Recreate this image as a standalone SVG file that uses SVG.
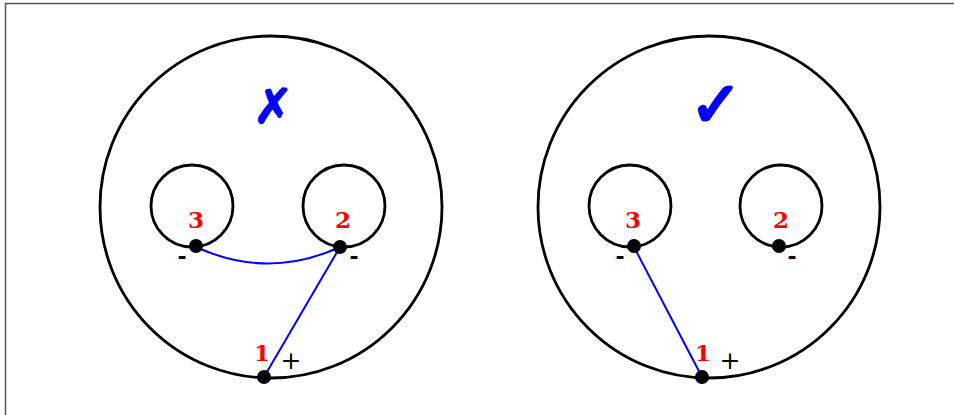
<svg xmlns="http://www.w3.org/2000/svg" width="954" height="415" viewBox="0 0 954 415">
<style>
.big{fill:none;stroke:#000;stroke-width:2.8}
.small{fill:none;stroke:#000;stroke-width:2.8}
.dot{fill:#000}
.wire{fill:none;stroke:#0000ff;stroke-width:2}
.num{font-family:"DejaVu Serif","Liberation Serif",serif;font-weight:bold;font-size:23px;fill:#ff0000;text-anchor:middle}
.neg{font-family:"DejaVu Sans","Liberation Sans",sans-serif;font-weight:bold;font-size:22px;fill:#000;text-anchor:middle}
.pos{font-family:"DejaVu Serif","Liberation Serif",serif;font-size:25px;fill:#000;text-anchor:middle}
.mark{font-family:"DejaVu Sans",sans-serif;font-weight:bold;fill:#0000ff;stroke:#0000ff;stroke-linejoin:round;text-anchor:middle}
</style>
<rect x="0" y="0" width="954" height="415" fill="#fff"/>
<rect x="5.5" y="3.5" width="960" height="420" fill="none" stroke="#555" stroke-width="1.5"/>

<g id="left">
  <circle class="big" cx="271" cy="207" r="171"/>
  <text class="mark" x="273" y="123" font-size="48" stroke-width="1.5">✗</text>
  <g id="l-pin3">
    <circle class="small" cx="192" cy="206" r="41"/>
    <text class="num" x="196" y="228">3</text>
    <text class="neg" x="182" y="264">-</text>
  </g>
  <g id="l-pin2">
    <circle class="small" cx="344" cy="206" r="41"/>
    <text class="num" x="343" y="228">2</text>
    <text class="neg" x="354" y="264">-</text>
  </g>
  <g id="l-pin1">
    <text class="num" x="262" y="361">1</text>
    <text class="pos" x="291" y="369">+</text>
  </g>
</g>

<g id="right">
  <circle class="big" cx="709" cy="207" r="171"/>
  <text class="mark" x="716" y="126" font-size="62" stroke-width="3">✓</text>
  <g id="r-pin3">
    <circle class="small" cx="630" cy="206" r="41"/>
    <text class="num" x="633" y="228">3</text>
    <text class="neg" x="620" y="264">-</text>
  </g>
  <g id="r-pin2">
    <circle class="small" cx="781" cy="206" r="41"/>
    <text class="num" x="781" y="228">2</text>
    <text class="neg" x="792" y="264">-</text>
  </g>
  <g id="r-pin1">
    <text class="num" x="703" y="361">1</text>
    <text class="pos" x="730" y="369">+</text>
  </g>
</g>

<g id="connectors">
  <path class="wire" d="M196,247 Q268,280 340,247"/>
  <line class="wire" x1="340" y1="247" x2="264" y2="377"/>
  <line class="wire" x1="634" y1="247" x2="702" y2="377"/>
</g>

<g id="dots">
  <circle class="dot" cx="196" cy="246" r="7"/>
  <circle class="dot" cx="340" cy="247" r="7"/>
  <circle class="dot" cx="264" cy="377" r="7"/>
  <circle class="dot" cx="634" cy="246" r="7"/>
  <circle class="dot" cx="779" cy="246" r="7"/>
  <circle class="dot" cx="702" cy="377" r="7"/>
</g>
</svg>
